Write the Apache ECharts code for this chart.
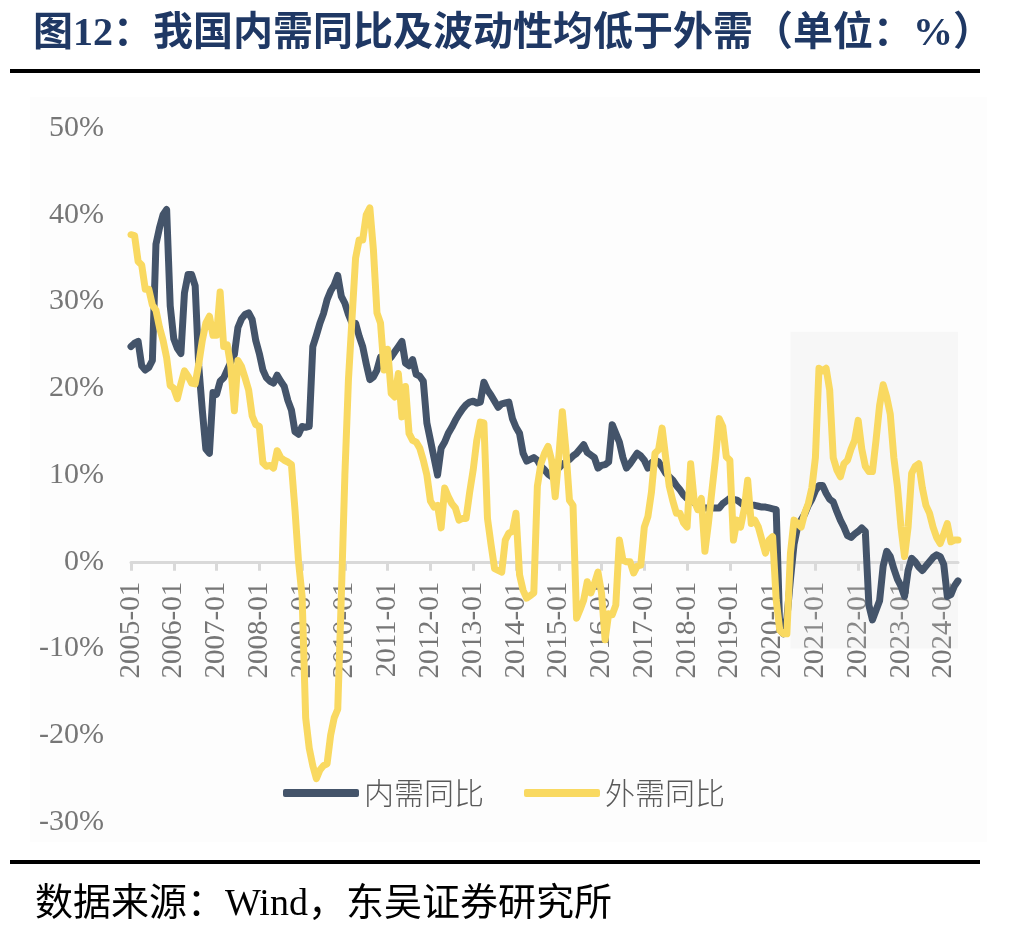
<!DOCTYPE html>
<html>
<head>
<meta charset="utf-8">
<script src="https://cdn.jsdelivr.net/npm/echarts@6/dist/echarts.min.js"></script>
<style>html,body{margin:0;padding:0;background:#fff}#c{width:1009px;height:932px}</style>
</head>
<body>
<div id="c"></div>
<script>
// categories: monthly 2005-01 .. 2024-05
const firstYear = 2005, lastYear = 2024, lastMonth = 5;
const months = [];
for (let y = firstYear; y <= lastYear; y++) {
  for (let m = 1; m <= 12; m++) {
    if (y === lastYear && m > lastMonth) break;
    months.push(y + '-' + (m < 10 ? '0' + m : m));
  }
}
const seriesNames = ['内需同比', '外需同比'];
// 内需同比 (%)
const domestic = [
  24.8, 25.2, 25.4, 22.6, 22.1, 22.4, 23.2, 36.6, 38.5, 40.0, 40.6, 29.5,
  25.7, 24.6, 24.0, 31.0, 33.1, 33.1, 31.8, 22.6, 17.5, 13.0, 12.5, 19.5,
  19.3, 20.8, 21.2, 22.1, 23.0, 23.9, 27.0, 28.0, 28.5, 28.7, 27.9, 25.5,
  24.0, 22.1, 21.2, 20.8, 20.6, 21.5, 20.8, 20.2, 18.6, 17.5, 15.0, 14.7,
  15.6, 15.5, 15.6, 24.8, 26.1, 27.5, 28.6, 30.2, 31.2, 31.9, 33.0, 30.6,
  29.8, 28.5, 27.5, 27.5, 26.0, 24.8, 22.8, 21.0, 21.3, 22.1, 23.6, 23.0,
  23.2, 23.6, 24.2, 24.8, 25.4, 22.9, 22.6, 23.3, 21.6, 21.4, 20.8, 16.0,
  14.0, 12.0, 10.0, 13.1, 13.8, 14.8, 15.5, 16.3, 17.0, 17.6, 18.1, 18.4,
  18.5, 18.3, 18.4, 20.7, 19.8, 19.2, 18.5, 17.8, 18.2, 18.3, 18.4, 16.5,
  15.5, 14.8, 12.5, 11.6, 11.8, 12.0, 11.7, 11.0, 10.6, 10.1, 9.8, 10.4,
  10.8, 11.2, 11.5, 11.8, 12.2, 12.5, 13.0, 13.5, 12.6, 12.3, 12.0, 10.8,
  11.1, 11.2, 11.5, 15.8, 14.8, 13.8, 12.0, 10.8, 11.3, 11.9, 12.5, 12.2,
  11.7, 10.8, 11.4, 11.7, 11.5, 10.9, 10.2, 9.8, 9.4, 8.8, 8.3, 7.7,
  7.3, 7.1, 6.8, 6.5, 6.3, 6.2, 6.2, 6.2, 6.2, 6.2, 6.7, 7.0,
  7.3, 7.2, 7.1, 6.8, 6.5, 6.5, 6.5, 6.5, 6.4, 6.3, 6.3, 6.2,
  6.1, 6.0, -7.8, -8.3, -6.5, -2.0, 2.0, 4.0, 4.8, 5.5, 6.5, 7.2,
  8.2, 8.8, 8.8, 7.9, 7.2, 6.9, 5.8, 4.8, 4.0, 3.0, 2.8, 3.2,
  3.5, 3.9, 3.5, -5.0, -6.7, -5.6, -4.5, -0.5, 1.2, 0.6, -0.8, -2.0,
  -2.8, -4.0, -1.0, 0.4, 0.0, -0.6, -1.0, -0.5, 0.0, 0.5, 0.8, 0.6,
  -0.3, -4.0, -3.8, -2.8, -2.2
];
// 外需同比 (%)
const external = [
  37.7, 37.6, 34.6, 34.2, 31.4, 31.4, 29.6, 29.0, 27.0, 25.5, 23.5, 20.3,
  20.0, 18.8, 20.5, 22.0, 21.4, 20.6, 20.5, 22.8, 25.5, 27.5, 28.3, 26.1,
  26.1, 31.1, 24.8, 25.0, 22.5, 17.4, 23.2, 22.5, 21.2, 19.8, 16.8, 15.8,
  15.6, 11.4, 11.0, 11.1, 10.8, 12.8, 12.0, 11.7, 11.5, 11.2, 6.0, 0.0,
  -4.0, -18.0, -21.5, -23.5, -25.0, -24.0, -23.5, -23.3, -20.0, -18.0, -17.0, -4.0,
  10.0, 21.0, 28.0, 35.0, 37.1, 37.1, 40.0, 40.8, 36.0, 28.7, 27.5, 22.1,
  24.5, 19.4, 19.0, 21.7, 16.7, 20.2, 14.8, 14.0, 13.8, 13.1, 11.7, 10.0,
  7.0, 6.3, 6.5, 3.9, 8.5, 7.5, 6.7, 6.2, 4.8, 5.0, 5.0, 8.0,
  10.6, 14.0, 16.1, 16.0, 5.0, 2.0, -0.8, -1.0, -1.2, 2.5, 3.3, 3.5,
  5.6, -1.5, -3.3, -4.2, -3.9, -3.6, 8.7, 11.3, 12.5, 13.3, 11.7, 7.5,
  12.0, 17.3, 12.9, 7.1, 6.5, -6.5, -5.5, -4.4, -2.3, -3.6, -2.5, -1.2,
  -3.6, -9.0, -6.0, -6.1, -5.0, 2.5, 0.2, 0.0, 0.0, -1.3, -0.5, -0.4,
  4.0, 5.2, 8.0, 12.5, 12.9, 15.4, 12.0, 8.7, 7.0, 5.6, 5.6, 4.5,
  4.0, 11.3, 7.0, 6.0, 7.3, 1.2, 4.5, 8.3, 12.0, 16.5, 15.6, 12.1,
  11.7, 2.5, 4.8, 4.0, 6.0, 9.4, 4.4, 4.8, 4.0, 2.5, 1.0, 2.5,
  2.9, -4.4, -7.9, -8.3, -8.3, 1.0, 4.8, 4.4, 4.0, 5.6, 6.7, 8.5,
  12.0, 22.3, 22.0, 22.3, 19.8, 12.0, 10.6, 9.8, 11.3, 11.7, 13.0, 14.0,
  16.3, 13.0, 11.0, 10.4, 10.4, 14.0, 18.0, 20.4, 19.0, 17.0, 12.0, 8.7,
  4.0, 0.6, 4.0, 10.2, 11.0, 11.3, 8.5, 6.5, 5.6, 4.0, 2.8, 2.1,
  3.2, 4.4, 2.3, 2.5, 2.5
];
// y-axis ticks
const yMin = -30, yMax = 50, yStep = 10;
// highlighted period (shaded box)
const shadeFrom = '2020-06', shadeTo = '2024-05', shadeTop = 26.5, shadeBottom = -10;

const serif = '"Liberation Serif", "Noto Sans CJK SC", serif';
const gridLeft = 131, gridRight = 51, gridTop = 128, gridBottom = 110;
const plotH = 932 - gridTop - gridBottom;
// second grid whose bottom edge sits on the value 0 line, used to carry the date axis
const zeroBottom = 932 - (gridTop + plotH * (yMax - 0) / (yMax - yMin));

const chart = echarts.init(document.getElementById('c'), null, {renderer: 'canvas'});
chart.setOption({
  animation: false,
  backgroundColor: '#ffffff',
  graphic: [
    {type: 'rect', z: -10, shape: {x: 30, y: 97, width: 957, height: 745}, style: {fill: '#fdfdfd'}},
    {type: 'text', left: 33, top: 15, style: {text: '图12：我国内需同比及波动性均低于外需（单位：%）', font: 'bold 40px ' + serif, fill: '#1f3864'}},
    {type: 'rect', shape: {x: 10, y: 69, width: 970, height: 4}, style: {fill: '#000'}},
    {type: 'rect', shape: {x: 10, y: 860, width: 970, height: 4}, style: {fill: '#000'}},
    {type: 'text', left: 35, top: 886, style: {text: '数据来源：Wind，东吴证券研究所', font: '38px ' + serif, fill: '#000'}}
  ],
  grid: [
    {left: gridLeft, right: gridRight, top: gridTop, bottom: gridBottom},
    {left: gridLeft, right: gridRight, top: gridTop, bottom: zeroBottom}
  ],
  legend: {
    data: seriesNames,
    left: 278, top: 773,
    icon: 'roundRect', itemWidth: 76, itemHeight: 8, itemGap: 40,
    textStyle: {fontSize: 30, color: '#595959', fontFamily: '"Noto Sans CJK SC", sans-serif', fontWeight: 300}
  },
  xAxis: [
    {type: 'category', gridIndex: 0, data: months, boundaryGap: false,
     axisLine: {show: false}, axisTick: {show: false}, axisLabel: {show: false}},
    {type: 'category', gridIndex: 1, data: months, boundaryGap: false, position: 'bottom',
     axisLine: {onZero: false, lineStyle: {color: '#d9d9d9', width: 3}},
     axisTick: {interval: 11, length: 9, lineStyle: {color: '#d9d9d9', width: 3}},
     axisLabel: {interval: 11, rotate: 90, margin: 20, fontSize: 29, color: '#767676', fontFamily: serif}}
  ],
  yAxis: [
    {type: 'value', gridIndex: 0, min: yMin, max: yMax, interval: yStep,
     splitLine: {show: false}, axisLine: {show: false}, axisTick: {show: false},
     axisLabel: {formatter: '{value}%', margin: 27, fontSize: 30, color: '#767676', fontFamily: serif}},
    {type: 'value', gridIndex: 1, min: 0, max: 1, show: false}
  ],
  series: [
    {name: seriesNames[0], type: 'line', data: domestic, showSymbol: false, z: 2,
     itemStyle: {color: '#44546a'}, lineStyle: {color: '#44546a', width: 7, cap: 'round', join: 'round'}},
    {name: seriesNames[1], type: 'line', data: external, showSymbol: false, z: 3,
     itemStyle: {color: '#f9d961'}, lineStyle: {color: '#f9d961', width: 7, cap: 'round', join: 'round'}},
    {name: 'shade', type: 'line', data: [], z: 10, silent: true,
     markArea: {silent: true, itemStyle: {color: 'rgba(220,220,220,0.18)'},
       data: [[{xAxis: shadeFrom, yAxis: shadeTop}, {xAxis: shadeTo, yAxis: shadeBottom}]]}}
  ]
});
</script>
</body>
</html>
